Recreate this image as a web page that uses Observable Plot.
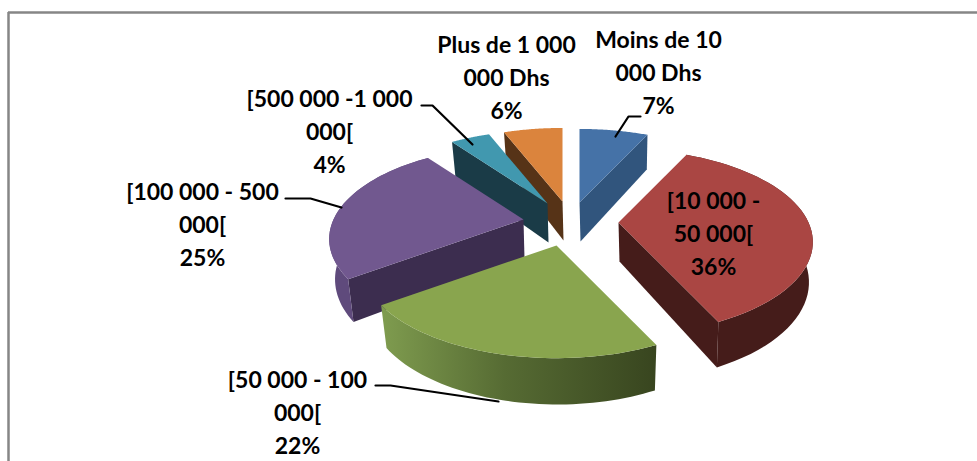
<!DOCTYPE html>
<html><head><meta charset="utf-8">
<script src="https://cdn.jsdelivr.net/npm/d3@7"></script>
<script src="https://cdn.jsdelivr.net/npm/@observablehq/plot@0.6"></script>
<style>html,body{margin:0;padding:0;background:#fff}svg{display:block}</style>
</head><body><div id="chart"></div>
<script>
// Data
const categories = ["Moins de 10\n000 Dhs","[10 000 -\n50 000[","[50 000 - 100\n000[","[100 000 - 500\n000[","[500 000 -1 000\n000[","Plus de 1 000\n000 Dhs"];
const shares = [7,36,22,25,4,6];
const topColors = ["#4572a7","#aa4643","#89a54e","#71588f","#4198af","#db843d"];
const radialColors = ["#31557d","#451c1a",null,"#3c2d4f","#1a3b47","#563317"];
const arcColors = [null,"#451c1a","url(#greenWall)","#5f4a7c",null,null];
// Layout of the exploded 3D pie, in pixel-based chart units
const apexX = [579,618,556,523,547,562];
const apexY = [202,222,245,219,203,201];
const labelX = [658,713,297,202,329,506];
const labelY = [70,231,410,222,129,75];
const leaders = [
  [[640,116],[628,116],[615,136]],
  null,
  [[375,385],[390,385],[498,401]],
  [[285,198],[310,198],[341,207]],
  [[421,105],[432,105],[472,144]],
  null
];
const drawOrder = [0,5,4,3,1,2];
const RX = 190, RY = 89, K = 0.21;

const total = d3.sum(shares);
let acc = 0;
const slices = shares.map((v,i)=>{const a0=acc/total*2*Math.PI; acc+=v; return {i,a0,a1:acc/total*2*Math.PI};});
const proj = (t)=>{const w=1+K*Math.cos(t);return [RX*Math.sin(t)/w,-RY*Math.cos(t)/w];};
const top3 = (s,t)=>{const [dx,dy]=proj(t);return [apexX[s.i]+dx,apexY[s.i]+dy];};
const bot3 = (s,t)=>{const [dx,dy]=proj(t);const d=39+0.09*dy;return [apexX[s.i]+dx*0.975+1,apexY[s.i]+dy*0.975+d];};
const arcAngles=(a0,a1)=>d3.range(0,49).map(k=>a0+(a1-a0)*k/48);

const polys=[];
let id=0;
const add=(pts,fill)=>{const n=id++;pts.forEach(p=>polys.push({x:p[0],y:p[1],n,fill}));};
for(const i of drawOrder){
  const s=slices[i];
  if(radialColors[i]){
    const t = (i===0||i===1)? s.a1 : s.a0;
    add([[apexX[i],apexY[i]],top3(s,t),bot3(s,t),[apexX[i]+1,apexY[i]+39]],radialColors[i]);
  }
  if(arcColors[i]){
    const angs=arcAngles(s.a0,s.a1);
    add([...angs.map(t=>top3(s,t)),...angs.slice().reverse().map(t=>bot3(s,t))],arcColors[i]);
  }
  add([[apexX[i],apexY[i]],...arcAngles(s.a0,s.a1).map(t=>top3(s,t))],topColors[i]);
}
const labelData=categories.map((c,i)=>({x:labelX[i],y:labelY[i],t:`${c}\n${shares[i]}%`}));
const leaderData=leaders.flatMap((l,i)=>l?l.map(p=>({x:p[0],y:p[1],i})):[]);
const groups=d3.groups(polys,d=>d.n);

const chart=Plot.plot({
  width:977,height:461,margin:0,
  x:{domain:[0,977],range:[0,977],axis:null},
  y:{domain:[0,461],range:[0,461],axis:null},
  style:{background:"#fff",fontFamily:"Lato, sans-serif"},
  marks:[
    ()=>{const s=d3.create("svg:defs");
      const g=s.append("linearGradient").attr("id","greenWall");
      [["0%","#7f9c4f"],["45%","#566b33"],["100%","#38451f"]].forEach(([o,c])=>g.append("stop").attr("offset",o).attr("stop-color",c));
      return s.node();},
    Plot.ruleY([12],{x1:8,x2:977,stroke:"#868686",strokeWidth:2.5}),
    Plot.ruleX([8],{y1:12,y2:461,stroke:"#868686",strokeWidth:2.5}),
    ...groups.map(([n,pts])=>Plot.line(pts,{x:"x",y:"y",fill:pts[0].fill,stroke:null,curve:"linear"})),
    Plot.line(leaderData,{x:"x",y:"y",z:"i",stroke:"#000",strokeWidth:2.2}),
    Plot.text(labelData,{x:"x",y:"y",text:"t",fontSize:23,fontWeight:700,lineHeight:1.43,fill:"#000",textAnchor:"middle"})
  ]
});
document.getElementById("chart").appendChild(chart);
</script></body></html>
